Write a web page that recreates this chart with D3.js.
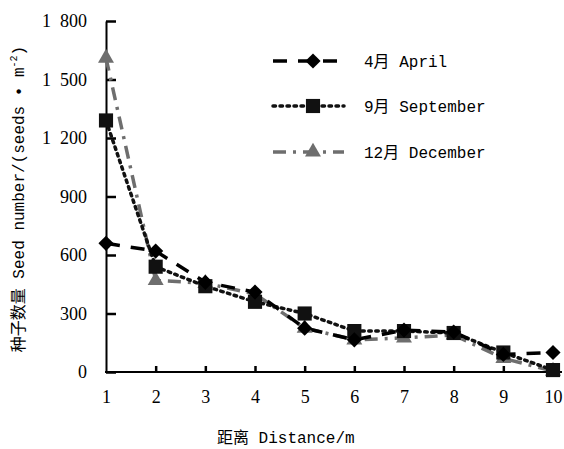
<!DOCTYPE html>
<html><head><meta charset="utf-8">
<script src="https://cdn.jsdelivr.net/npm/d3@7/dist/d3.min.js"></script>
<style>
html,body{margin:0;padding:0;background:#fff;}
svg{display:block;}
</style></head>
<body><svg id="chart" width="564" height="449"></svg>
<script>
const distances = [1,2,3,4,5,6,7,8,9,10];
const april = [660, 620, 460, 410, 225, 165, 215, 205, 90, 100];
const september = [1290, 540, 440, 360, 300, 210, 210, 200, 100, 10];
const december = [1610, 470, 455, 400, 225, 165, 175, 190, 70, 5];
const yTicks = [0, 300, 600, 900, 1200, 1500, 1800];
const yTickLabels = ["0", "300", "600", "900", "1\u2002200", "1\u2002500", "1\u2002800"];
const xTickLabels = ["1","2","3","4","5","6","7","8","9","10"];
const seriesNames = ["4月 April", "9月 September", "12月 December"];

const series = [
  {name: seriesNames[0], values: april, color: "#000", dash: "14,11", sym: "diamond", width: 3.5},
  {name: seriesNames[1], values: september, color: "#111", dash: "2.5,4.5", sym: "square", width: 3.5},
  {name: seriesNames[2], values: december, color: "#6e6e6e", dash: "13,7,3,7", sym: "triangle", width: 3.5}
];

const svg = d3.select("#chart");
const x = d3.scaleLinear().domain([1,10]).range([106, 553]);
const y = d3.scaleLinear().domain([0,1800]).range([372, 21]);

const serif = "'Liberation Serif','Times New Roman',serif";
const mono = "'Liberation Mono','Noto Sans CJK SC',monospace";

// Y axis
const yAxis = d3.axisLeft(y).tickValues(yTicks)
  .tickFormat((d,i) => yTickLabels[i])
  .tickSizeInner(-10).tickSizeOuter(0).tickPadding(19);
const gy = svg.append("g").attr("transform", "translate(106,0)").call(yAxis);
gy.select(".domain").attr("stroke","#000").attr("stroke-width",2);
gy.selectAll(".tick line").attr("stroke","#000").attr("stroke-width",2.5);
gy.selectAll(".tick text").attr("font-family", serif).attr("font-size", 18).attr("fill","#000");

// X axis
const xAxis = d3.axisBottom(x).tickValues(distances)
  .tickFormat((d,i) => xTickLabels[i])
  .tickSizeInner(-6).tickSizeOuter(0).tickPadding(18);
const gx = svg.append("g").attr("transform", "translate(0,372)").call(xAxis);
gx.select(".domain").remove();
gx.append("line").attr("x1", 105).attr("x2", 562).attr("y1", 0).attr("y2", 0)
  .attr("stroke","#000").attr("stroke-width",2);
gx.selectAll(".tick line").attr("stroke","#000").attr("stroke-width",2.5)
  .filter(d => d === 1).remove();
gx.selectAll(".tick text").attr("font-family", serif).attr("font-size", 18).attr("fill","#000");

// Symbols
function symPath(kind) {
  if (kind === "diamond") return d3.symbol(d3.symbolSquare, 115)();
  if (kind === "square") return d3.symbol(d3.symbolSquare, 200)();
  return d3.symbol(d3.symbolTriangle, 110)();
}
function symRot(kind) { return kind === "diamond" ? " rotate(45)" : ""; }

const line = d3.line().x((d,i) => x(distances[i])).y(d => y(d));

const order = [2, 1, 0];
order.forEach(k => {
  const s = series[k];
  svg.append("path").datum(s.values)
    .attr("d", line).attr("fill","none")
    .attr("stroke", s.color).attr("stroke-width", s.width)
    .attr("stroke-dasharray", s.dash)
    .attr("stroke-linecap", k === 1 ? "round" : "butt");
});
order.forEach(k => {
  const s = series[k];
  svg.append("g").selectAll("path").data(s.values).join("path")
    .attr("d", symPath(s.sym))
    .attr("transform", (d,i) => `translate(${x(distances[i])},${y(d)})${symRot(s.sym)}`)
    .attr("fill", s.color);
});

// Legend
const legY = [61, 106, 152];
series.forEach((s, i) => {
  const g = svg.append("g").attr("transform", `translate(0,${legY[i]})`);
  g.append("line").attr("x1", 273).attr("x2", 344).attr("y1", 0).attr("y2", 0)
    .attr("stroke", s.color).attr("stroke-width", s.width)
    .attr("stroke-dasharray", s.dash).attr("stroke-linecap", i === 1 ? "round" : "butt");
  g.append("path").attr("d", symPath(s.sym))
    .attr("transform", `translate(313,0)${symRot(s.sym)}`).attr("fill", s.color);
  g.append("text").attr("x", 364).attr("y", 0).attr("dy", "0.35em")
    .attr("font-family", mono).attr("font-size", 16).attr("fill","#000")
    .text(s.name);
});

// Axis titles
svg.append("text").attr("x", 217).attr("y", 437).attr("dy","0.35em")
  .attr("font-family", mono).attr("font-size", 16).attr("fill","#000")
  .text("距离 Distance/m");

const yt = svg.append("text")
  .attr("transform", "translate(18,199) rotate(-90)")
  .attr("text-anchor","middle").attr("dy","0.35em")
  .attr("font-family", mono).attr("font-size", 16).attr("fill","#000");
yt.append("tspan").text("种子数量 Seed number/(seeds • m");
yt.append("tspan").attr("font-size", 10).attr("dy", "-0.7em").text("-2");
yt.append("tspan").attr("dy", "0.45em").text(")");
</script>
</body></html>
